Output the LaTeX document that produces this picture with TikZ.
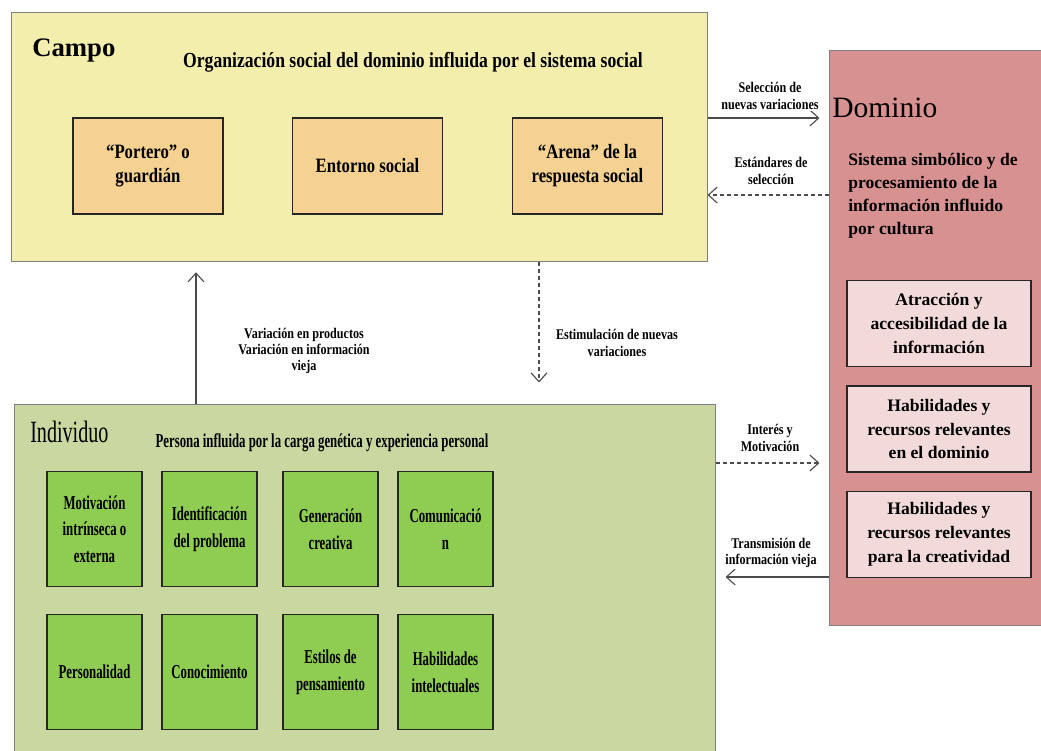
\documentclass[tikz,border=0pt]{standalone}
\usepackage{fontspec}
\setmainfont{Liberation Serif}
\newfontfamily\condfont{Liberation Serif}[FakeStretch=0.82]
\newfontfamily\narrowfont{Liberation Serif}[FakeStretch=0.65]
\usetikzlibrary{arrows.meta}

\definecolor{campobg}{RGB}{243,238,172}
\definecolor{orangebox}{RGB}{245,210,145}
\definecolor{dominiobg}{RGB}{216,145,145}
\definecolor{pinkbox}{RGB}{242,218,218}
\definecolor{indivbg}{RGB}{200,216,160}
\definecolor{greenbox}{RGB}{142,204,82}

\begin{document}
\begin{tikzpicture}[x=0.025cm, y=-0.025cm,
		area/.style={
			draw=black!50, line width=0.7pt, rectangle
		},
		orbox/.style={
			draw=black!85, line width=0.8pt, rectangle, fill=orangebox,
			minimum width=3.75cm, minimum height=2.4cm,
			font=\condfont\fontsize{14.5}{17}\selectfont\bfseries, align=center
		},
		pkbox/.style={
			draw=black!85, line width=0.8pt, rectangle, fill=pinkbox,
			minimum width=4.6cm, minimum height=2.15cm,
			font=\fontsize{12.5}{17}\selectfont\bfseries, align=center
		},
		grbox/.style={
			draw=black!85, line width=0.8pt, rectangle, fill=greenbox,
			minimum width=2.375cm, minimum height=2.875cm,
			font=\narrowfont\fontsize{14}{19}\selectfont\bfseries, align=center
		},
		lbl/.style={
			fill=white, inner sep=1pt, align=center,
			font=\condfont\fontsize{10.5}{11.5}\selectfont\bfseries
		},
		arr/.style={-{Straight Barb[length=2.2mm, width=4mm]}, line width=0.8pt, black!70},
		]
		
		\useasboundingbox (0,0) rectangle (1041,751);
		\clip (0,0) rectangle (1041,751);
		
		\node[area, fill=campobg,   minimum width=17.375cm, minimum height=6.2cm]  (campo)   at (359.5,137) {};
		\node[area, fill=dominiobg, minimum width=5.275cm,  minimum height=14.35cm] (dominio) at (935.5,338) {};
		\node[area, fill=indivbg,   minimum width=17.5cm,   minimum height=9.25cm]  (indiv)   at (365,590)   {};
		
		\node[anchor=west, inner sep=0, font=\fontsize{19}{22}\selectfont\bfseries] (campotit) at (32,50) {Campo};
		\node[font=\condfont\fontsize{15.3}{18}\selectfont\bfseries] (campodesc) at (413,62) {Organización social del dominio influida por el sistema social};
		
		\node[orbox] (portero) at (148,166)   {“Portero” o\\guardián};
		\node[orbox] (entorno) at (367.5,166) {Entorno social};
		\node[orbox] (arena)   at (587.5,166) {“Arena” de la\\respuesta social};
		
		\node[anchor=west, inner sep=0, font=\fontsize{21}{24}\selectfont] (domtit) at (832,108) {Dominio};
		\node[anchor=north west, inner sep=0, align=left, font=\fontsize{12.5}{16.3}\selectfont\bfseries] (domdesc) at (848,153)
			{Sistema simbólico y de\\procesamiento de la\\información influido\\por cultura};
		
		\node[pkbox] (atrac) at (939,323.5) {Atracción y\\accesibilidad de la\\información};
		\node[pkbox] (habdom) at (939,429)  {Habilidades y\\recursos relevantes\\en el dominio};
		\node[pkbox] (habcre) at (939,534.5) {Habilidades y\\recursos relevantes\\para la creatividad};
		
		\node[anchor=west, inner sep=0, font=\narrowfont\fontsize{22}{25}\selectfont] (indivtit) at (30,432) {Individuo};
		\node[font=\narrowfont\fontsize{14}{17}\selectfont\bfseries] (indivdesc) at (322,443) {Persona influida por la carga genética y experiencia personal};
		
		\node[grbox] (motiv) at (94.5,529)  {Motivación\\intrínseca o\\externa};
		\node[grbox] (ident) at (209.5,529) {Identificación\\del problema};
		\node[grbox] (gener) at (330.5,529) {Generación\\creativa};
		\node[grbox] (comun) at (445.5,529) {Comunicació\\n};
		\node[grbox] (perso) at (94.5,672)  {Personalidad};
		\node[grbox] (conoc) at (209.5,672) {Conocimiento};
		\node[grbox] (estil) at (330.5,672) {Estilos de\\pensamiento};
		\node[grbox] (habin) at (445.5,672) {Habilidades\\intelectuales};
		
		\coordinate (up)  at (196,0);
		\coordinate (dn)  at (539,0);
		\coordinate (sel) at (0,118);
		\coordinate (est) at (0,195);
		\coordinate (int) at (0,463);
		\coordinate (tra) at (0,577);
		
		\draw[arr, shorten >=0.27cm] (up |- indiv.north) -- (up |- campo.south);
		\draw[arr, dash pattern=on 3pt off 2pt, shorten >=0.55cm] (dn |- campo.south) -- (dn |- indiv.north);
		\draw[arr, shorten >=0.25cm] (campo.east |- sel) -- (dominio.west |- sel);
		\draw[arr, dash pattern=on 3pt off 2pt] (dominio.west |- est) -- (campo.east |- est);
		\draw[arr, dash pattern=on 3pt off 2pt, shorten >=0.25cm] (indiv.east |- int) -- (dominio.west |- int);
		\draw[arr, shorten >=0.25cm] (dominio.west |- tra) -- (indiv.east |- tra);
		
		\node[lbl] (sellbl)   at (770,96)  {Selección de\\nuevas variaciones};
		\node[lbl] (estlbl)   at (771,171) {Estándares de\\selección};
		\node[lbl] (varlbl)   at (304,351) {Variación en productos\\Variación en información\\vieja};
		\node[lbl] (estimlbl) at (617,343) {Estimulación de nuevas\\variaciones};
		\node[lbl] (intlbl)   at (770,438) {Interés y\\Motivación};
		\node[lbl] (tralbl)   at (771,553) {Transmisión de\\información vieja};
		
	\end{tikzpicture}
\end{document}
